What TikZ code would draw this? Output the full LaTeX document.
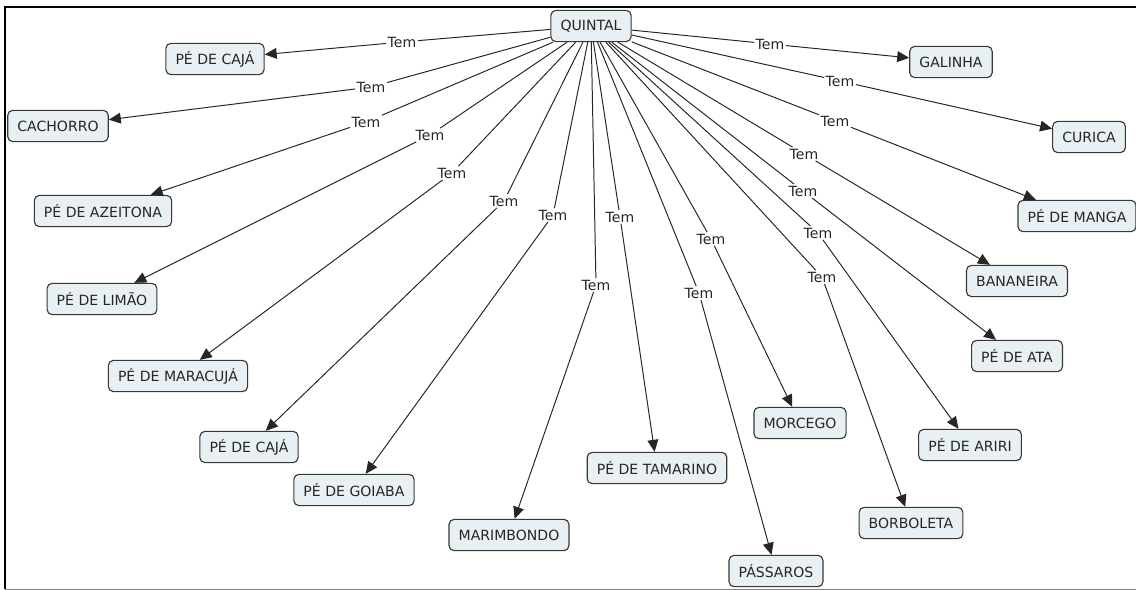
\documentclass[tikz,border=0pt]{standalone}
\usepackage{fontspec}
\setmainfont{DejaVu Sans}
\usepackage{tikz}
\usetikzlibrary{arrows.meta}
\definecolor{conceptfill}{RGB}{233,240,243}
\definecolor{conceptline}{RGB}{55,55,55}
\tikzset{
  concept/.style={draw=conceptline, fill=conceptfill, rounded corners=3.5pt,
                  line width=0.8pt, inner xsep=0.24cm, minimum height=0.78cm,
                  font=\fontsize{10}{12}\selectfont, text=black!85},
  lbl/.style    ={font=\fontsize{10}{12}\selectfont, inner sep=1pt, text=black!85},
  arr/.style    ={-{Triangle[length=3mm, width=2.7mm]}, line width=0.7pt, black!85},
  frame/.style  ={line width=1.6pt},
}

\begin{document}
\begin{tikzpicture}[x=0.025cm, y=-0.025cm]
  \useasboundingbox (0,0) rectangle (1136,590);
  \draw[frame] (1136,7) -- (5,7) -- (5,589);
  \draw[gray, line width=0.6pt] (5,589) -- (1136,589);

  % centre concept
  \node[concept] (quintal)    at (591,26)  {QUINTAL};

  % left side
  \node[concept] (cajaA)      at (215,59)  {PÉ DE CAJÁ};
  \node[concept] (cachorro)   at (58,126)  {CACHORRO};
  \node[concept] (azeitona)   at (103,211) {PÉ DE AZEITONA};
  \node[concept] (limao)      at (102,299) {PÉ DE LIMÃO};
  \node[concept] (maracuja)   at (178,376) {PÉ DE MARACUJÁ};
  \node[concept] (cajaB)      at (249,447) {PÉ DE CAJÁ};
  \node[concept] (goiaba)     at (354,490) {PÉ DE GOIABA};
  \node[concept] (marimbondo) at (509,535) {MARIMBONDO};
  \node[concept] (tamarino)   at (657,468) {PÉ DE TAMARINO};
  \node[concept] (passaros)   at (776,571) {PÁSSAROS};

  % right side
  \node[concept] (morcego)    at (800,423) {MORCEGO};
  \node[concept] (borboleta)  at (911,523) {BORBOLETA};
  \node[concept] (ariri)      at (970,445) {PÉ DE ARIRI};
  \node[concept] (ata)        at (1017,356) {PÉ DE ATA};
  \node[concept] (bananeira)  at (1017,281) {BANANEIRA};
  \node[concept] (manga)      at (1077,216) {PÉ DE MANGA};
  \node[concept] (curica)     at (1089,137) {CURICA};
  \node[concept] (galinha)    at (951,62)  {GALINHA};

  % linking phrases
  \node[lbl] (t-cajaA)      at (402,42)  {Tem};
  \node[lbl] (t-cachorro)   at (371,87)  {Tem};
  \node[lbl] (t-azeitona)   at (366,122) {Tem};
  \node[lbl] (t-limao)      at (430,135) {Tem};
  \node[lbl] (t-maracuja)   at (452,173) {Tem};
  \node[lbl] (t-cajaB)      at (504,201) {Tem};
  \node[lbl] (t-goiaba)     at (553,215) {Tem};
  \node[lbl] (t-marimbondo) at (596,285) {Tem};
  \node[lbl] (t-tamarino)   at (620,217) {Tem};
  \node[lbl] (t-passaros)   at (699,293) {Tem};
  \node[lbl] (t-morcego)    at (711,239) {Tem};
  \node[lbl] (t-borboleta)  at (822,277) {Tem};
  \node[lbl] (t-ariri)      at (818,233) {Tem};
  \node[lbl] (t-ata)        at (803,191) {Tem};
  \node[lbl] (t-bananeira)  at (804,154) {Tem};
  \node[lbl] (t-manga)      at (835,121) {Tem};
  \node[lbl] (t-curica)     at (840,81)  {Tem};
  \node[lbl] (t-galinha)    at (770,44)  {Tem};

  \draw[arr] (quintal) -- (t-cajaA)      -- (cajaA);
  \draw[arr] (quintal) -- (t-cachorro)   -- (cachorro);
  \draw[arr] (quintal) -- (t-azeitona)   -- (azeitona);
  \draw[arr] (quintal) -- (t-limao)      -- (limao);
  \draw[arr] (quintal) -- (t-maracuja)   -- (maracuja);
  \draw[arr] (quintal) -- (t-cajaB)      -- (cajaB);
  \draw[arr] (quintal) -- (t-goiaba)     -- (goiaba);
  \draw[arr] (quintal) -- (t-marimbondo) -- (marimbondo);
  \draw[arr] (quintal) -- (t-tamarino)   -- (tamarino);
  \draw[arr] (quintal) -- (t-passaros)   -- (passaros);
  \draw[arr] (quintal) -- (t-morcego)    -- (morcego);
  \draw[arr] (quintal) -- (t-borboleta)  -- (borboleta);
  \draw[arr] (quintal) -- (t-ariri)      -- (ariri);
  \draw[arr] (quintal) -- (t-ata)        -- (ata);
  \draw[arr] (quintal) -- (t-bananeira)  -- (bananeira);
  \draw[arr] (quintal) -- (t-manga)      -- (manga);
  \draw[arr] (quintal) -- (t-curica)     -- (curica);
  \draw[arr] (quintal) -- (t-galinha)    -- (galinha);
\end{tikzpicture}
\end{document}
